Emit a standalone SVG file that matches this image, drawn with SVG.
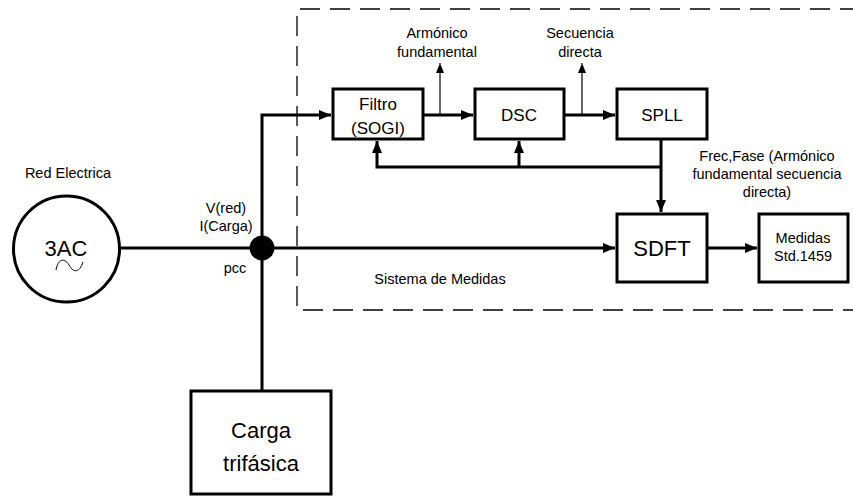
<svg xmlns="http://www.w3.org/2000/svg" width="853" height="496" viewBox="0 0 853 496">
  <style>
    .box { fill: #fff; stroke: #000; stroke-width: 3; }
    .wire { fill: none; stroke: #000; stroke-width: 3; }
    .thin { fill: none; stroke: #000; stroke-width: 1.2; }
    .frame { fill: none; stroke: #000; stroke-width: 1.3; stroke-dasharray: 20 10; }
    text { font-family: "Liberation Sans", Arial, sans-serif; fill: #000; text-anchor: middle; }
    .s { font-size: 14.5px; }
    .m { font-size: 17px; }
    .l { font-size: 22px; }
  </style>
  <defs>
    <marker id="arr" markerWidth="12" markerHeight="10" refX="12" refY="5" orient="auto" markerUnits="userSpaceOnUse">
      <path d="M0,0 L12,5 L0,10 Z" fill="#000"/>
    </marker>
    <marker id="arrS" markerWidth="8" markerHeight="10" refX="10" refY="4" orient="auto" markerUnits="userSpaceOnUse">
      <path d="M0,0 L10,4 L0,8 Z" fill="#000"/>
    </marker>
  </defs>

  <rect width="853" height="496" fill="#fff"/>

  <!-- measurement system boundary -->
  <path class="frame" d="M860,9 H297 V310 H860"/>
  <text class="s" x="440" y="284">Sistema de Medidas</text>

  <g id="connectors">
    <!-- grid to measurement block -->
    <line class="wire" x1="119" y1="248" x2="615" y2="248" marker-end="url(#arr)"/>
    <!-- pcc riser: load below, filter above -->
    <path class="wire" d="M262,391 V115 H331" marker-end="url(#arr)"/>
    <line class="wire" x1="423" y1="115" x2="473" y2="115" marker-end="url(#arr)"/>
    <line class="wire" x1="564" y1="115" x2="615" y2="115" marker-end="url(#arr)"/>
    <!-- side outputs -->
    <line class="thin" x1="440" y1="115" x2="440" y2="63" marker-end="url(#arrS)"/>
    <line class="thin" x1="582" y1="115" x2="582" y2="63" marker-end="url(#arrS)"/>
    <!-- SPLL feedback and reference to SDFT -->
    <line class="wire" x1="661" y1="139" x2="661" y2="212" marker-end="url(#arr)"/>
    <path class="wire" d="M661,167 H377 V141" marker-end="url(#arr)"/>
    <line class="wire" x1="519" y1="167" x2="519" y2="141" marker-end="url(#arr)"/>
    <line class="wire" x1="707" y1="248" x2="757" y2="248" marker-end="url(#arr)"/>
    <circle cx="262" cy="248" r="12.5" fill="#000"/>
  </g>

  <g id="red-electrica">
    <text class="s" x="68" y="178">Red Electrica</text>
    <circle cx="66.5" cy="249" r="53" fill="#fff" stroke="#000" stroke-width="3"/>
    <text class="l" x="66" y="256">3AC</text>
    <path d="M56,270 C58,259 64,257 69,265 C74,274 80,272 83,262" fill="none" stroke="#000" stroke-width="1"/>
  </g>

  <g id="pcc-labels">
    <text class="s" x="226" y="213">V(red)</text>
    <text class="s" x="226" y="231">I(Carga)</text>
    <text class="s" x="235" y="273">pcc</text>
  </g>

  <g id="filtro">
    <rect class="box" x="333" y="89" width="90" height="50"/>
    <text class="m" x="378" y="110">Filtro</text>
    <text class="m" x="378" y="134">(SOGI)</text>
  </g>

  <g id="armonico-label">
    <text class="s" x="437" y="38">Armónico</text>
    <text class="s" x="437" y="57">fundamental</text>
  </g>

  <g id="dsc">
    <rect class="box" x="475" y="89" width="89" height="50"/>
    <text class="m" x="519" y="121">DSC</text>
  </g>

  <g id="secuencia-label">
    <text class="s" x="580" y="38">Secuencia</text>
    <text class="s" x="580" y="57">directa</text>
  </g>

  <g id="spll">
    <rect class="box" x="617" y="89" width="90" height="50"/>
    <text class="m" x="662" y="121">SPLL</text>
  </g>

  <g id="frec-label">
    <text class="s" x="767" y="161">Frec,Fase (Armónico</text>
    <text class="s" x="767" y="179">fundamental secuencia</text>
    <text class="s" x="767" y="197">directa)</text>
  </g>

  <g id="sdft">
    <rect class="box" x="617" y="214" width="90" height="68"/>
    <text class="l" x="662" y="256">SDFT</text>
  </g>

  <g id="medidas">
    <rect class="box" x="759" y="214" width="89" height="68"/>
    <text class="s" x="803" y="243">Medidas</text>
    <text class="s" x="803" y="261">Std.1459</text>
  </g>

  <g id="carga">
    <rect class="box" x="191" y="391" width="140" height="103"/>
    <text class="l" x="261" y="438">Carga</text>
    <text class="l" x="261" y="471">trifásica</text>
  </g>
</svg>
